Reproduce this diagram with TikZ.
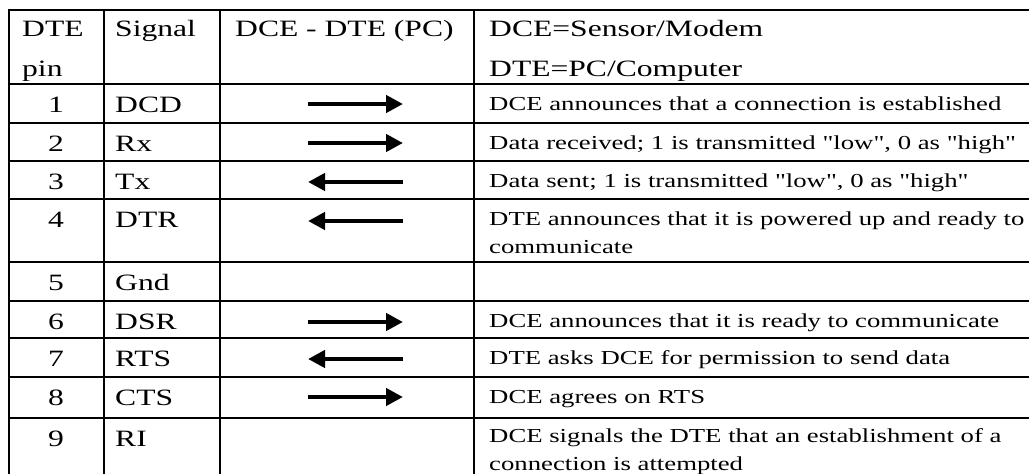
\documentclass[tikz,border=0pt]{standalone}
\usepackage{fontspec}
\setmainfont{Liberation Serif}[FakeStretch=1.35,Ligatures=TeXOff]
\usetikzlibrary{arrows.meta}
\tikzset{
  cell/.style={anchor=base west,inner sep=0pt,font=\fontsize{23.4}{40}\selectfont,align=left},
  num/.style={anchor=base,inner sep=0pt,font=\fontsize{23.4}{40}\selectfont},
  desc/.style={anchor=base west,inner sep=0pt,font=\fontsize{19.8}{28}\selectfont,align=left},
  rule/.style={line width=2pt},
  sig/.style={line width=4.5pt,-{Triangle[length=17pt,width=17pt]}},
}
\begin{document}
\begin{tikzpicture}[x=1pt,y=-1pt]
  \useasboundingbox (0,0) rectangle (1029,474);
  % grid
  \foreach \gx in {9,104,220,474} \draw[rule] (\gx,9) -- (\gx,474);
  \foreach \gy in {10,84,123,161,199,262,301,338,377,418} \draw[rule] (8,\gy) -- (1029,\gy);

  % header (two-line cells sit on their last baseline)
  \node[cell] (hpin) at (22,76) {DTE\\pin};
  \node[cell] (hsig) at (115,36) {Signal};
  \node[cell] (hdir) at (235,36) {DCE - DTE (PC)};
  \node[cell] (hdesc) at (489,76) {DCE=Sensor/Modem\\DTE=PC/Computer};

  % pins and signals
  \node[num] (p1) at (56,112) {1};  \node[cell] (s1) at (115,112) {DCD};
  \node[num] (p2) at (56,151) {2};  \node[cell] (s2) at (115,151) {Rx};
  \node[num] (p3) at (56,189) {3};  \node[cell] (s3) at (115,189) {Tx};
  \node[num] (p4) at (56,227) {4};  \node[cell] (s4) at (115,227) {DTR};
  \node[num] (p5) at (56,290) {5};  \node[cell] (s5) at (115,290) {Gnd};
  \node[num] (p6) at (56,329) {6};  \node[cell] (s6) at (115,329) {DSR};
  \node[num] (p7) at (56,366) {7};  \node[cell] (s7) at (115,366) {RTS};
  \node[num] (p8) at (56,405) {8};  \node[cell] (s8) at (115,405) {CTS};
  \node[num] (p9) at (56,446) {9};  \node[cell] (s9) at (115,446) {RI};

  % descriptions
  \node[desc] (d1) at (489,110) {DCE announces that a connection is established};
  \node[desc] (d2) at (489,149) {Data received; 1 is transmitted "low", 0 as "high"};
  \node[desc] (d3) at (489,187) {Data sent; 1 is transmitted "low", 0 as "high"};
  \node[desc] (d4) at (489,253) {DTE announces that it is powered up and ready to\\communicate};
  \node[desc] (d6) at (489,327) {DCE announces that it is ready to communicate};
  \node[desc] (d7) at (489,364) {DTE asks DCE for permission to send data};
  \node[desc] (d8) at (489,403) {DCE agrees on RTS};
  \node[desc] (d9) at (489,470) {DCE signals the DTE that an establishment of a\\connection is attempted};

  % direction arrows
  \coordinate (a1w) at (308,104); \coordinate (a1e) at (403,104);
  \coordinate (a2w) at (308,143); \coordinate (a2e) at (403,143);
  \coordinate (a3w) at (308,182); \coordinate (a3e) at (403,182);
  \coordinate (a4w) at (308,221); \coordinate (a4e) at (403,221);
  \coordinate (a6w) at (308,322); \coordinate (a6e) at (403,322);
  \coordinate (a7w) at (308,359); \coordinate (a7e) at (403,359);
  \coordinate (a8w) at (308,397); \coordinate (a8e) at (403,397);
  \draw[sig] (a1w) -- (a1e);
  \draw[sig] (a2w) -- (a2e);
  \draw[sig] (a3e) -- (a3w);
  \draw[sig] (a4e) -- (a4w);
  \draw[sig] (a6w) -- (a6e);
  \draw[sig] (a7e) -- (a7w);
  \draw[sig] (a8w) -- (a8e);
\end{tikzpicture}
\end{document}
